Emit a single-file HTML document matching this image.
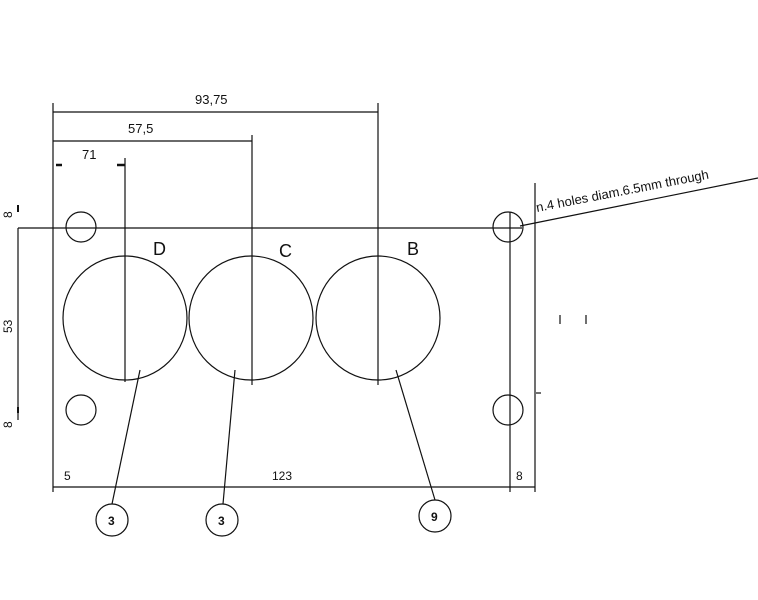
<!DOCTYPE html>
<html><head><meta charset="utf-8"><style>body{margin:0;background:#fff}svg{display:block}</style></head><body>
<svg width="758" height="600" xmlns="http://www.w3.org/2000/svg" font-family="Liberation Sans, sans-serif" fill="none" stroke="#111" stroke-width="1.2">
<line x1="53" y1="103" x2="53" y2="492"/>
<line x1="535" y1="183" x2="535" y2="492"/>
<line x1="510" y1="212" x2="510" y2="492"/>
<line x1="18" y1="228" x2="522" y2="228"/>
<line x1="53" y1="112" x2="378" y2="112"/>
<line x1="53" y1="141" x2="252" y2="141"/>
<line x1="378" y1="103" x2="378" y2="385"/>
<line x1="252" y1="135" x2="252" y2="385"/>
<line x1="125" y1="158" x2="125" y2="382"/>
<line x1="56" y1="165" x2="62" y2="165" stroke-width="2.5"/>
<line x1="117" y1="165" x2="125" y2="165" stroke-width="2.5"/>
<line x1="18" y1="228" x2="18" y2="420"/>
<line x1="18" y1="205" x2="18" y2="212" stroke-width="2"/>
<line x1="18" y1="407" x2="18" y2="413" stroke-width="2"/>
<line x1="53" y1="487" x2="535" y2="487"/>
<circle cx="125" cy="318" r="62"/>
<circle cx="251" cy="318" r="62"/>
<circle cx="378" cy="318" r="62"/>
<circle cx="81" cy="227" r="15"/>
<circle cx="81" cy="410" r="15"/>
<circle cx="508" cy="227" r="15"/>
<circle cx="508" cy="410" r="15"/>
<line x1="140" y1="370" x2="112" y2="504"/>
<line x1="235" y1="370" x2="223" y2="504"/>
<line x1="396" y1="370" x2="435" y2="500"/>
<circle cx="112" cy="520" r="16"/>
<circle cx="222" cy="520" r="16"/>
<circle cx="435" cy="516" r="16"/>
<line x1="520" y1="226" x2="758" y2="178"/>
<line x1="560" y1="315" x2="560" y2="324"/>
<line x1="586" y1="315" x2="586" y2="324"/>
<line x1="536" y1="393" x2="541" y2="393"/>
<g fill="#111" stroke="none" font-size="13">
<text x="195" y="104">93,75</text>
<text x="128" y="133">57,5</text>
<text x="82" y="159">71</text>
<text x="64" y="480" font-size="12">5</text>
<text x="272" y="480" font-size="12">123</text>
<text x="516" y="480" font-size="12">8</text>
<text x="153" y="255" font-size="18">D</text>
<text x="279" y="257" font-size="18">C</text>
<text x="407" y="255" font-size="18">B</text>
<text transform="translate(12,218) rotate(-90)" font-size="12">8</text>
<text transform="translate(12,333) rotate(-90)" font-size="12">53</text>
<text transform="translate(12,428) rotate(-90)" font-size="12">8</text>
<text transform="translate(537,212) rotate(-11)" font-size="13">n.4 holes diam.6.5mm through</text>
<text x="108" y="525" font-size="12" font-weight="bold">3</text>
<text x="218" y="525" font-size="12" font-weight="bold">3</text>
<text x="431" y="521" font-size="12" font-weight="bold">9</text>
</g>
</svg>
</body></html>
